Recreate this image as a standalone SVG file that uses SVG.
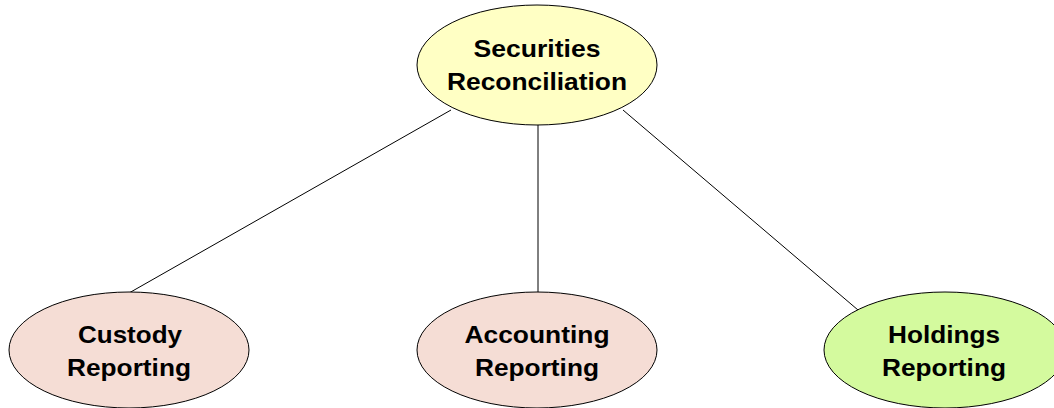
<svg xmlns="http://www.w3.org/2000/svg" width="1054" height="408" viewBox="0 0 1054 408">
<style>
.n{stroke:#000;stroke-width:1}
.t{font-family:"Liberation Sans",Arial,sans-serif;font-weight:bold;font-size:24px;fill:#000;text-anchor:middle}
.e{stroke:#000;stroke-width:1;fill:none}
</style>
<rect width="1054" height="408" fill="#fff"/>
<g id="connectors">
<line class="e" x1="451" y1="110" x2="129" y2="293"/>
<line class="e" x1="538" y1="125" x2="538" y2="292"/>
<line class="e" x1="623" y1="110" x2="858" y2="310"/>
</g>
<g id="securities-reconciliation">
<ellipse class="n" cx="537" cy="65" rx="120" ry="60" fill="#FFFFC4"/>
<text class="t" x="537" y="57" textLength="127" lengthAdjust="spacingAndGlyphs">Securities</text>
<text class="t" x="537" y="90" textLength="180" lengthAdjust="spacingAndGlyphs">Reconciliation</text>
</g>
<g id="custody-reporting">
<ellipse class="n" cx="129" cy="350" rx="120" ry="58" fill="#F5DDD5"/>
<text class="t" x="130" y="343" textLength="104" lengthAdjust="spacingAndGlyphs">Custody</text>
<text class="t" x="129" y="376" textLength="124" lengthAdjust="spacingAndGlyphs">Reporting</text>
</g>
<g id="accounting-reporting">
<ellipse class="n" cx="537" cy="350" rx="120" ry="58" fill="#F5DDD5"/>
<text class="t" x="537" y="343" textLength="145" lengthAdjust="spacingAndGlyphs">Accounting</text>
<text class="t" x="537" y="376" textLength="124" lengthAdjust="spacingAndGlyphs">Reporting</text>
</g>
<g id="holdings-reporting">
<ellipse class="n" cx="945" cy="350" rx="121" ry="58" fill="#D4FA9E"/>
<text class="t" x="944" y="343" textLength="112" lengthAdjust="spacingAndGlyphs">Holdings</text>
<text class="t" x="944" y="376" textLength="124" lengthAdjust="spacingAndGlyphs">Reporting</text>
</g>
</svg>
